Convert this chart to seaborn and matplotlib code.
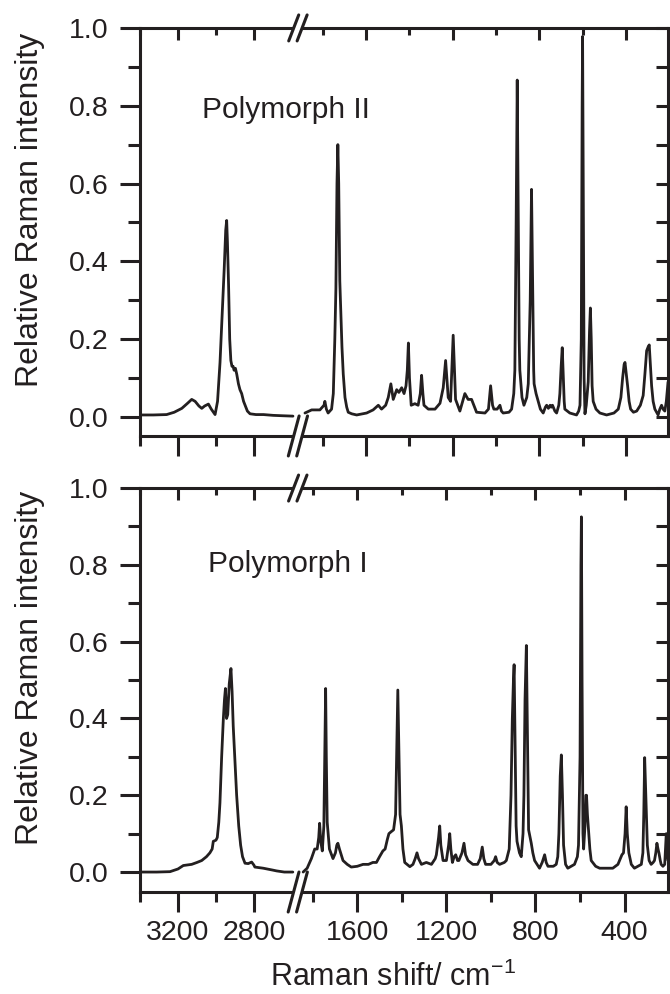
import numpy as np
import matplotlib
matplotlib.use("Agg")
import matplotlib.pyplot as plt
import seaborn as sns

# Polymorph II (top panel), high wavenumber segment
ii_hi = [(3400, 0.005), (3330, 0.005), (3260, 0.006), (3220, 0.012), (3180, 0.022),
         (3150, 0.035), (3128, 0.045), (3110, 0.04), (3090, 0.028), (3075, 0.022),
         (3060, 0.028), (3040, 0.033), (3025, 0.02), (3005, 0.006), (2992, 0.04),
         (2979, 0.14), (2968, 0.26), (2957, 0.38), (2949, 0.48), (2944, 0.505),
         (2940, 0.45), (2934, 0.34), (2928, 0.2), (2922, 0.145), (2916, 0.13),
         (2910, 0.13), (2905, 0.12), (2898, 0.125), (2891, 0.11), (2882, 0.085),
         (2874, 0.07), (2865, 0.06), (2855, 0.04), (2847, 0.03), (2835, 0.015),
         (2821, 0.008), (2790, 0.006), (2750, 0.006), (2700, 0.004), (2650, 0.003),
         (2595, 0.002)]

# Polymorph II, fingerprint segment
ii_lo = [(1883, 0.01), (1852, 0.018), (1814, 0.018), (1795, 0.03), (1791, 0.04),
         (1784, 0.02), (1776, 0.01), (1760, 0.02), (1752, 0.06), (1745, 0.2),
         (1740, 0.33), (1735, 0.6), (1731, 0.70), (1727, 0.6), (1722, 0.35),
         (1718, 0.28), (1712, 0.18), (1706, 0.11), (1698, 0.05), (1690, 0.025),
         (1683, 0.012), (1667, 0.008), (1644, 0.005), (1598, 0.01), (1568, 0.018),
         (1544, 0.03), (1529, 0.02), (1510, 0.03), (1498, 0.05), (1486, 0.085),
         (1475, 0.045), (1459, 0.07), (1449, 0.063), (1436, 0.075), (1425, 0.06),
         (1416, 0.08), (1410, 0.12), (1405, 0.19), (1400, 0.1), (1392, 0.03),
         (1375, 0.034), (1360, 0.03), (1350, 0.06), (1344, 0.107), (1338, 0.06),
         (1333, 0.03), (1313, 0.02), (1282, 0.02), (1259, 0.035), (1244, 0.075),
         (1233, 0.145), (1221, 0.05), (1210, 0.04), (1198, 0.21), (1187, 0.045),
         (1167, 0.015), (1144, 0.06), (1129, 0.045), (1113, 0.045), (1090, 0.012),
         (1051, 0.01), (1035, 0.02), (1025, 0.08), (1016, 0.03), (1010, 0.02),
         (995, 0.02), (982, 0.03), (975, 0.015), (967, 0.01), (940, 0.012),
         (928, 0.02), (918, 0.06), (913, 0.12), (907, 0.5), (902, 0.866),
         (897, 0.5), (893, 0.2), (890, 0.12), (880, 0.05), (871, 0.03),
         (858, 0.05), (851, 0.085), (842, 0.3), (836, 0.585), (830, 0.3),
         (826, 0.12), (824, 0.085), (815, 0.06), (805, 0.04), (795, 0.02),
         (782, 0.01), (772, 0.025), (766, 0.03), (758, 0.022), (750, 0.03),
         (745, 0.025), (739, 0.03), (728, 0.015), (720, 0.01), (710, 0.03),
         (705, 0.06), (699, 0.13), (694, 0.178), (689, 0.1), (685, 0.04),
         (682, 0.02), (659, 0.01), (628, 0.005), (618, 0.015), (612, 0.03),
         (606, 0.2), (602, 0.8), (600, 0.978), (597, 0.6), (593, 0.1),
         (589, 0.008), (583, 0.03), (577, 0.07), (574, 0.09), (568, 0.22),
         (564, 0.28), (560, 0.2), (556, 0.08), (551, 0.04), (538, 0.02),
         (520, 0.01), (489, 0.005), (455, 0.01), (435, 0.02), (423, 0.05),
         (415, 0.1), (408, 0.135), (404, 0.14), (398, 0.11), (392, 0.08),
         (385, 0.04), (378, 0.02), (365, 0.012), (350, 0.015), (333, 0.03),
         (320, 0.055), (312, 0.11), (304, 0.17), (297, 0.18), (292, 0.185),
         (287, 0.14), (281, 0.08), (274, 0.04), (266, 0.02), (251, 0.005),
         (243, 0.02), (235, 0.03), (228, 0.02), (220, 0.015), (213, 0.04),
         (208, 0.07), (205, 0.09)]

# Polymorph I (bottom panel), high wavenumber segment
i_hi = [(3400, 0.0), (3312, 0.0), (3242, 0.001), (3200, 0.008), (3172, 0.017),
        (3128, 0.02), (3100, 0.025), (3075, 0.03), (3050, 0.04), (3032, 0.05),
        (3020, 0.06), (3014, 0.08), (3000, 0.083), (2993, 0.09), (2985, 0.13),
        (2979, 0.18), (2970, 0.3), (2961, 0.4), (2955, 0.45), (2950, 0.478),
        (2944, 0.40), (2938, 0.41), (2930, 0.49), (2921, 0.53), (2915, 0.47),
        (2909, 0.38), (2900, 0.29), (2891, 0.2), (2880, 0.12), (2870, 0.07),
        (2860, 0.04), (2847, 0.023), (2830, 0.022), (2812, 0.026), (2800, 0.018),
        (2795, 0.013), (2751, 0.01), (2700, 0.005), (2681, 0.003), (2640, 0.0),
        (2595, 0.0)]

# Polymorph I, fingerprint segment
i_lo = [(1843, 0.0), (1825, 0.01), (1806, 0.035), (1791, 0.06), (1780, 0.06),
        (1773, 0.09), (1769, 0.127), (1764, 0.08), (1757, 0.055), (1750, 0.12),
        (1745, 0.35), (1742, 0.478), (1739, 0.3), (1735, 0.13), (1725, 0.06),
        (1709, 0.035), (1698, 0.05), (1692, 0.07), (1687, 0.075), (1680, 0.06),
        (1664, 0.03), (1645, 0.02), (1627, 0.013), (1600, 0.015), (1574, 0.02),
        (1550, 0.02), (1530, 0.025), (1514, 0.025), (1500, 0.04), (1485, 0.055),
        (1475, 0.06), (1465, 0.085), (1458, 0.1), (1448, 0.105), (1437, 0.11),
        (1428, 0.15), (1422, 0.35), (1418, 0.474), (1414, 0.35), (1408, 0.15),
        (1402, 0.12), (1395, 0.06), (1387, 0.025), (1364, 0.014), (1350, 0.02),
        (1340, 0.035), (1332, 0.05), (1325, 0.035), (1312, 0.02), (1290, 0.025),
        (1267, 0.02), (1250, 0.035), (1245, 0.045), (1235, 0.09), (1230, 0.12),
        (1225, 0.07), (1215, 0.03), (1200, 0.03), (1190, 0.07), (1185, 0.1),
        (1180, 0.06), (1173, 0.025), (1165, 0.04), (1158, 0.045), (1150, 0.03),
        (1144, 0.03), (1130, 0.05), (1121, 0.075), (1114, 0.045), (1103, 0.03),
        (1081, 0.02), (1060, 0.02), (1048, 0.035), (1039, 0.065), (1032, 0.035),
        (1024, 0.02), (1000, 0.02), (985, 0.03), (979, 0.04), (972, 0.025),
        (961, 0.02), (940, 0.025), (931, 0.03), (918, 0.06), (910, 0.2),
        (904, 0.4), (899, 0.5), (896, 0.54), (892, 0.35), (887, 0.12),
        (883, 0.08), (872, 0.05), (864, 0.04), (856, 0.1), (852, 0.2),
        (847, 0.45), (841, 0.59), (837, 0.4), (831, 0.11), (819, 0.075),
        (812, 0.05), (804, 0.03), (782, 0.01), (770, 0.025), (759, 0.045),
        (752, 0.025), (744, 0.015), (720, 0.015), (707, 0.02), (700, 0.04),
        (695, 0.1), (689, 0.25), (684, 0.305), (679, 0.2), (674, 0.07),
        (665, 0.02), (655, 0.01), (640, 0.015), (625, 0.02), (612, 0.04),
        (607, 0.07), (600, 0.3), (596, 0.8), (594, 0.925), (591, 0.5),
        (587, 0.1), (584, 0.06), (578, 0.12), (574, 0.2), (571, 0.2),
        (567, 0.15), (562, 0.11), (556, 0.06), (550, 0.03), (530, 0.015),
        (512, 0.01), (480, 0.01), (453, 0.01), (430, 0.02), (423, 0.03),
        (412, 0.045), (405, 0.05), (398, 0.1), (393, 0.17), (388, 0.1),
        (381, 0.05), (370, 0.02), (356, 0.01), (340, 0.015), (325, 0.02),
        (318, 0.05), (314, 0.15), (310, 0.298), (305, 0.2), (298, 0.07),
        (290, 0.03), (281, 0.02), (272, 0.025), (266, 0.03), (260, 0.05),
        (255, 0.075), (250, 0.06), (246, 0.05), (240, 0.03), (236, 0.02),
        (228, 0.015), (220, 0.02), (213, 0.1), (207, 0.04), (205, 0.03)]

major_x = [3200, 2800, 1600, 1200, 800, 400]
minor_x = [3400, 3000, 1800, 1400, 1000, 600]
major_y = [0.0, 0.2, 0.4, 0.6, 0.8, 1.0]
minor_y = [0.1, 0.3, 0.5, 0.7, 0.9]
labels = ["Polymorph II", "Polymorph I"]

ink = "#231f20"
W_HI, HI_LO, LO_LO = 3400, 2590, 205


def make_scale(lo_hi, r):
    # piecewise linear position: fingerprint part, then compressed CH part
    def fwd(x):
        x = np.asarray(x, dtype=float)
        return np.minimum(x, lo_hi) - LO_LO + np.maximum(x - HI_LO, 0) * r

    def inv(p):
        p = np.asarray(p, dtype=float)
        edge = lo_hi - LO_LO
        return np.where(p <= edge, p + LO_LO, HI_LO + (p - edge) / r)

    return fwd, inv


sns.set_style("ticks")
plt.rcParams["font.family"] = ["Liberation Sans", "DejaVu Sans"]
plt.rcParams["mathtext.fontset"] = "custom"
plt.rcParams["mathtext.rm"] = "Liberation Sans"
plt.rcParams["mathtext.it"] = "Liberation Sans:italic"

fig = plt.figure(figsize=(6.7, 9.94), dpi=100)
panels = [
    dict(rect=[0.209, 0.5614, 0.7881, 0.4105], data=(ii_hi, ii_lo), lo_hi=1934,
         r=0.878, ylim=(-0.049, 1.0), text=labels[0], tpos=(0.117, 0.779)),
    dict(rect=[0.209, 0.1026, 0.7881, 0.4064], data=(i_hi, i_lo), lo_hi=1885,
         r=0.852, ylim=(-0.052, 1.0), text=labels[1], tpos=(0.129, 0.793)),
]

for k, p in enumerate(panels):
    ax = fig.add_axes(p["rect"])
    scale = make_scale(p["lo_hi"], p["r"])
    ax.set_xscale("function", functions=scale)
    for seg in p["data"]:
        wn, y = zip(*seg)
        sns.lineplot(x=list(wn), y=list(y), ax=ax, color=ink, linewidth=2.0,
                     estimator=None)
    ax.set_xlim(W_HI, LO_LO)
    ax.set_ylim(*p["ylim"])

    ax.set_xticks(major_x)
    ax.set_xticks(minor_x, minor=True)
    ax.set_yticks(major_y)
    ax.set_yticks(minor_y, minor=True)
    ax.set_yticklabels([f"{v:.1f}" for v in major_y])
    ax.set_xticklabels([str(v) for v in major_x])
    ax.tick_params(axis="both", which="both", direction="out", width=2.2,
                   colors=ink, labelsize=20.5, top=False, right=False)
    ax.tick_params(axis="x", which="major", length=14.4, pad=6)
    ax.tick_params(axis="x", which="minor", length=7.5)
    ax.tick_params(axis="y", which="major", length=14.4, pad=8)
    ax.tick_params(axis="y", which="minor", length=8.6)
    for s in ax.spines.values():
        s.set_visible(True)
        s.set_linewidth(2.2)
        s.set_color(ink)

    ax.set_ylabel("Relative Raman intensity", fontsize=23, color=ink)
    ax.yaxis.set_label_coords(-0.18, 0.555)
    if k == 0:
        ax.tick_params(axis="x", labelbottom=False)
        ax.set_xlabel("")
    else:
        ax.set_xlabel("Raman shift/ cm$^{-1}$", fontsize=22, color=ink)
        ax.xaxis.set_label_coords(0.479, -0.172)

    ax.text(p["tpos"][0], p["tpos"][1], p["text"], transform=ax.transAxes,
            fontsize=21.5, color=ink, ha="left", va="baseline")

    # mirrored ticks on top and right, pointing inward
    ov = fig.add_axes(p["rect"], label=f"overlay{k}")
    ov.set_xscale("function", functions=scale)
    ov.set_xlim(W_HI, LO_LO)
    ov.set_ylim(*p["ylim"])
    ov.patch.set_visible(False)
    for s in ov.spines.values():
        s.set_visible(False)
    ov.xaxis.set_ticks_position("top")
    ov.yaxis.set_ticks_position("right")
    ov.set_xticks(major_x)
    ov.set_xticks(minor_x, minor=True)
    ov.set_yticks(major_y)
    ov.set_yticks(minor_y, minor=True)
    ov.tick_params(axis="both", which="both", direction="in", width=2.2,
                   colors=ink, labeltop=False, labelbottom=False,
                   labelleft=False, labelright=False)
    ov.tick_params(axis="x", which="major", length=8.6)
    ov.tick_params(axis="x", which="minor", length=5)
    ov.tick_params(axis="y", which="both", length=8.6)

    # axis break marks
    fwd = scale[0]
    span = fwd(W_HI) - fwd(LO_LO)
    W = p["rect"][2] * 670
    H = p["rect"][3] * 994
    bx = (fwd(W_HI) - fwd(HI_LO)) / span + 4 / W
    gap = 4.2 / W
    for yb, half, slant in ((1.0, 13, 0.385), (0.0, 20, 0.27)):
        dy = half / H
        dx = half * slant / W
        ax.plot([bx - gap, bx + gap], [yb, yb], transform=ax.transAxes,
                color="white", lw=4, clip_on=False, zorder=6,
                solid_capstyle="butt")
        for s in (-gap, gap):
            ax.plot([bx + s - dx, bx + s + dx], [yb - dy, yb + dy],
                    transform=ax.transAxes, color=ink, lw=2.2,
                    clip_on=False, zorder=7)

fig.savefig("out.png", dpi=100)
